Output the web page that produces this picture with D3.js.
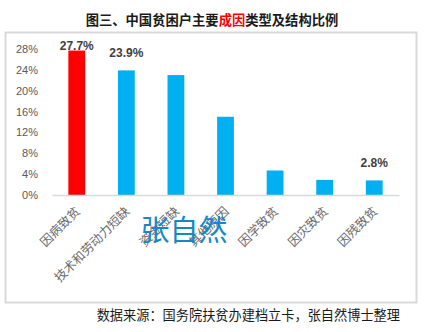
<!DOCTYPE html>
<html>
<head>
<meta charset="utf-8">
<script src="https://cdn.jsdelivr.net/npm/d3@7"></script>
<style>
  html, body { margin: 0; padding: 0; background: #fff; }
  svg { display: block; }
</style>
</head>
<body>
<svg id="chart" width="429" height="332"></svg>
<script>
// Poverty causes and their share of poor households
const categories = ["因病致贫", "技术和劳动力短缺", "资金短缺", "其他原因", "因学致贫", "因灾致贫", "因残致贫"];
const shares = [27.7, 23.9, 23.0, 15.0, 4.7, 2.9, 2.8];
const barColors = ["#FF0000", "#00B0F0", "#00B0F0", "#00B0F0", "#00B0F0", "#00B0F0", "#00B0F0"];
const labelled = [0, 1, 6];            // bars whose value is printed
const yTicks = [0, 4, 8, 12, 16, 20, 24, 28];

const cjk = "'Noto Sans CJK SC', 'Noto Sans', sans-serif";
const latin = "'Liberation Sans', Arial, sans-serif";

const svg = d3.select("#chart");

// outer chart frame
svg.append("rect")
  .attr("x", 5.5).attr("y", 32.5)
  .attr("width", 411).attr("height", 270)
  .attr("fill", "#fff")
  .attr("stroke", "#d9d9d9").attr("stroke-width", 2);

// title, with the key words in red
const title = svg.append("text")
  .attr("x", 212).attr("y", 25)
  .attr("text-anchor", "middle")
  .attr("font-family", cjk)
  .attr("font-weight", "bold")
  .attr("font-size", 13.3)
  .attr("fill", "#1a1a1a");
title.append("tspan").text("图三、中国贫困户主要");
title.append("tspan").attr("fill", "#FF0000").text("成因");
title.append("tspan").text("类型及结构比例");

const plot = { left: 52, right: 399, top: 49, bottom: 195 };

const x = d3.scaleBand()
  .domain(categories)
  .range([plot.left, plot.right])
  .paddingInner(0.661)
  .paddingOuter(0.33);

const y = d3.scaleLinear()
  .domain([0, 28])
  .range([plot.bottom, plot.top]);

// y axis labels (no line, no ticks)
const yAxis = svg.append("g")
  .attr("transform", `translate(${plot.left - 14},0)`)
  .call(d3.axisLeft(y).tickValues(yTicks).tickSize(0).tickPadding(0).tickFormat(d => d + "%"));
yAxis.select(".domain").remove();
yAxis.selectAll("text")
  .attr("font-family", latin)
  .attr("font-size", 11)
  .attr("fill", "#595959");

// bars
svg.append("g").selectAll("rect")
  .data(shares)
  .join("rect")
  .attr("x", (d, i) => x(categories[i]))
  .attr("y", d => y(d))
  .attr("width", x.bandwidth())
  .attr("height", d => y(0) - y(d))
  .attr("fill", (d, i) => barColors[i]);

// category axis
const xAxis = svg.append("g")
  .attr("transform", `translate(0,${plot.bottom})`)
  .call(d3.axisBottom(x).tickSize(0).tickPadding(0));
xAxis.select(".domain")
  .attr("stroke", "#d9d9d9")
  .attr("stroke-width", 1.5);
xAxis.selectAll("text")
  .attr("font-family", cjk)
  .attr("font-size", 12.5)
  .attr("fill", "#6a6a6a")
  .attr("text-anchor", "end")
  .attr("dy", "0.35em")
  .attr("transform", "translate(1,14) rotate(-45)");

// value labels above selected bars, kept inside the plot top
svg.append("g").selectAll("text")
  .data(labelled)
  .join("text")
  .attr("x", i => x(categories[i]) + x.bandwidth() / 2)
  .attr("y", i => Math.max(y(shares[i]) - 13.5, plot.top + 1))
  .attr("text-anchor", "middle")
  .attr("font-family", latin)
  .attr("font-weight", "bold")
  .attr("font-size", 12)
  .attr("fill", "#404040")
  .text(i => shares[i].toFixed(1) + "%");

// author mark
svg.append("text")
  .attr("x", 184).attr("y", 241)
  .attr("text-anchor", "middle")
  .attr("font-family", cjk)
  .attr("font-size", 29)
  .attr("fill", "#1589c5")
  .text("张自然");

// source note
svg.append("text")
  .attr("x", 400).attr("y", 320)
  .attr("text-anchor", "end")
  .attr("font-family", cjk)
  .attr("font-size", 13.2)
  .attr("fill", "#1a1a1a")
  .text("数据来源：国务院扶贫办建档立卡，张自然博士整理");
</script>
</body>
</html>
